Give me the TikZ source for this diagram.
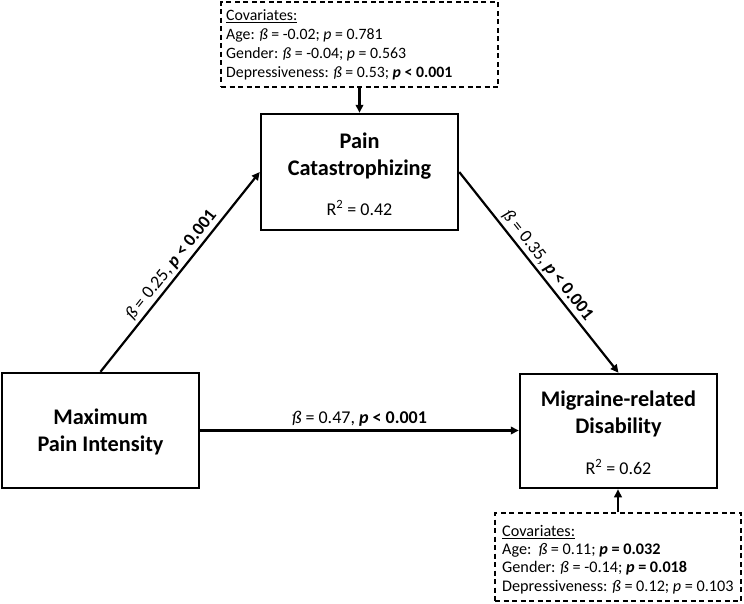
\documentclass[tikz,border=0pt]{standalone}
\usepackage{fontspec}
\setmainfont{Carlito}
\usetikzlibrary{arrows.meta,calc}
\begin{document}
\begin{tikzpicture}[x=1pt,y=-1pt,
  box/.style={draw,line width=2.5pt,minimum width=197pt,inner sep=0pt},
  covbox/.style={draw,line width=1.5pt,dash pattern=on 5pt off 3.5pt,inner sep=0pt},
  arr/.style={line width=2.2pt,-{Triangle[length=8pt,width=7.5pt]}},
  ttl/.style={font=\fontsize{22.3}{27}\selectfont\bfseries,align=center,inner sep=0pt},
  rsq/.style={font=\fontsize{18}{21}\selectfont,inner sep=0pt},
  elab/.style={font=\fontsize{18}{20}\selectfont,inner sep=2.5pt},
  covtxt/.style={align=left,inner sep=0pt,anchor=west}
]
\useasboundingbox (0,0) rectangle (744,603);
% boxes
\node[box,minimum height=116pt] (PC) at (359.5,172) {};
\node[box,minimum height=115pt] (MPI) at (100.5,430.5) {};
\node[box,minimum height=114pt] (MD) at (618.5,431) {};
\node[covbox,minimum width=277pt,minimum height=85pt] (TC) at (359.5,44.5) {};
\node[covbox,minimum width=246pt,minimum height=88pt] (BC) at (618,557) {};
% titles
\node[ttl] (PCt) at (359.5,156) {Pain\\Catastrophizing};
\node[rsq] (PCr) at (359.5,208) {R\textsuperscript{2} = 0.42};
\node[ttl] (MPIt) at (100.5,432) {Maximum\\Pain Intensity};
\node[ttl] (MDt) at (618.5,414) {Migraine-related\\Disability};
\node[rsq] (MDr) at (618.5,467) {R\textsuperscript{2} = 0.62};
% covariate texts
\node[covtxt,font=\fontsize{15.8}{18.8}\selectfont] (TCt) at (226,45)
 {\underline{Covariates:}\\
  Age: \textit{ß} = -0.02; \textit{p} = 0.781\\
  Gender: \textit{ß} = -0.04; \textit{p} = 0.563\\
  Depressiveness: \textit{ß} = 0.53; \textbf{\textit{p} < 0.001}};
\node[covtxt,font=\fontsize{16.2}{18.4}\selectfont] (BCt) at (502,559.5)
 {\underline{Covariates:}\\
  Age:\ \ \textit{ß} = 0.11; \textbf{\textit{p} = 0.032}\\
  Gender: \textit{ß} = -0.14; \textbf{\textit{p} = 0.018}\\
  Depressiveness: \textit{ß} = 0.12; \textit{p} = 0.103};
% connectors
\draw[arr] (MPI.north) -- node[elab,sloped,above] {\textit{ß} = 0.25, \textbf{\textit{p} < 0.001}} (PC.west);
\draw[arr] (PC.east) -- node[elab,sloped,above] {\textit{ß} = 0.35, \textbf{\textit{p} < 0.001}} (MD.north);
\draw[arr] (MPI.east) -- node[elab,above,yshift=1pt] {\textit{ß} = 0.47, \textbf{\textit{p} < 0.001}} (MPI.east -| MD.west);
\draw[arr] (TC.south) -- (TC.south |- PC.north);
\draw[arr] (BC.north) -- (BC.north |- MD.south);
\end{tikzpicture}
\end{document}
